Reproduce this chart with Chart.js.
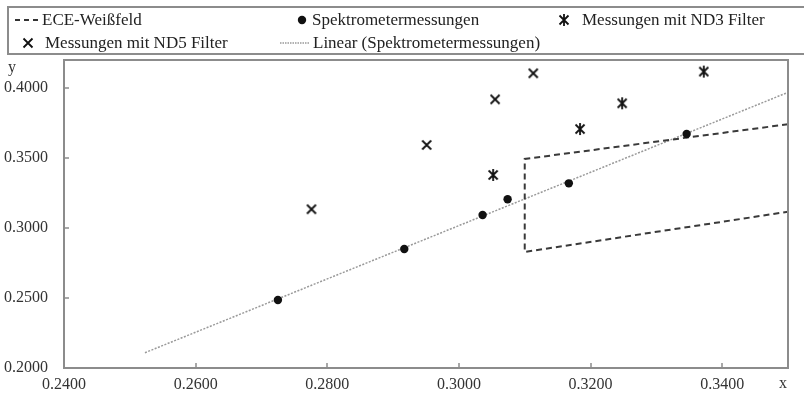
<!DOCTYPE html>
<html>
<head>
<meta charset="utf-8">
<script src="https://cdn.jsdelivr.net/npm/chart.js@4.4.0/dist/chart.umd.min.js"></script>
<style>
  body { margin: 0; background: #fff; }
  #wrap { position: relative; width: 804px; height: 399px; overflow: hidden;
          font-family: 'Liberation Serif', serif; color: #222; }
  #chart { position: absolute; left: 0; top: 0; }
  .legend-box { position: absolute; left: 7px; top: 6px; width: 830px; height: 49px;
                border: 2px solid #8c8c8c; box-sizing: border-box; }
  .lt { position: absolute; font-size: 17px; line-height: 20px; white-space: nowrap; }
  .mk { position: absolute; overflow: visible; }
  .axis-title { position: absolute; font-size: 16px; line-height: 20px; color: #333; }
</style>
</head>
<body>
<div id="wrap">
  <canvas id="chart" width="804" height="399"></canvas>

  <!-- legend, laid out like the original two-row box -->
  <div class="legend-box"></div>
  <svg class="mk" style="left:12px;top:12px" width="32" height="16">
    <line x1="3" y1="8" x2="28" y2="8" stroke="#333" stroke-width="2" stroke-dasharray="5,4"/>
  </svg>
  <span class="lt" style="left:42px;top:10px">ECE-Weißfeld</span>

  <svg class="mk" style="left:296px;top:14px" width="12" height="12">
    <circle cx="6" cy="6" r="4.2" fill="#111"/>
  </svg>
  <span class="lt" style="left:312px;top:10px">Spektrometermessungen</span>

  <svg class="mk" style="left:557px;top:13px" width="14" height="14">
    <path d="M2.5 2.5 L11.5 11.5 M11.5 2.5 L2.5 11.5 M7 1 L7 13" stroke="#111" stroke-width="1.8"/>
  </svg>
  <span class="lt" style="left:582px;top:10px">Messungen mit ND3 Filter</span>

  <svg class="mk" style="left:21px;top:36px" width="14" height="14">
    <path d="M2.5 2.5 L11.5 11.5 M11.5 2.5 L2.5 11.5" stroke="#111" stroke-width="1.8"/>
  </svg>
  <span class="lt" style="left:45px;top:33px">Messungen mit ND5 Filter</span>

  <svg class="mk" style="left:278px;top:35px" width="34" height="16">
    <line x1="2" y1="8" x2="32" y2="8" stroke="#999" stroke-width="1.5" stroke-dasharray="1.5,1"/>
  </svg>
  <span class="lt" style="left:313px;top:33px">Linear (Spektrometermessungen)</span>

  <span class="axis-title" style="left:8px;top:57px">y</span>
  <span class="axis-title" style="left:779px;top:373px">x</span>
</div>

<script>
// Spektrometermessungen
const specX = [0.2725, 0.2917, 0.3036, 0.3074, 0.3167, 0.3346];
const specY = [0.2486, 0.2850, 0.3093, 0.3205, 0.3319, 0.3671];

// Messungen mit ND3 Filter
const nd3X = [0.3052, 0.3184, 0.3248, 0.3372];
const nd3Y = [0.3379, 0.3707, 0.3891, 0.4117];

// Messungen mit ND5 Filter
const nd5X = [0.2776, 0.2951, 0.3055, 0.3113];
const nd5Y = [0.3134, 0.3593, 0.3919, 0.4105];

// ECE-Weißfeld outline (open on the right, runs out of the plot)
const eceX = [0.35, 0.31, 0.31, 0.35];
const eceY = [0.3741, 0.3493, 0.2829, 0.3116];

// Linear trend line of the spectrometer points (end points)
const trendX = [0.2523, 0.35];
const trendY = [0.2109, 0.3969];

const xTicks = [0.24, 0.26, 0.28, 0.30, 0.32, 0.34];
const yTicks = [0.20, 0.25, 0.30, 0.35, 0.40];

const toPoints = (xs, ys) => xs.map((x, i) => ({ x, y: ys[i] }));

// Excel-like markers: x, and star (x with a vertical stroke)
function makeMarker(withBar) {
  const c = document.createElement('canvas');
  c.width = 14; c.height = 14;
  const g = c.getContext('2d');
  g.strokeStyle = '#111';
  g.lineWidth = 1.8;
  g.beginPath();
  g.moveTo(2.5, 2.5); g.lineTo(11.5, 11.5);
  g.moveTo(11.5, 2.5); g.lineTo(2.5, 11.5);
  if (withBar) { g.moveTo(7, 1); g.lineTo(7, 13); }
  g.stroke();
  return c;
}

// plot frame and inward tick marks
const frame = {
  id: 'frame',
  afterDatasetsDraw(chart) {
    const { ctx, chartArea: a, scales } = chart;
    ctx.save();
    ctx.strokeStyle = '#8c8c8c';
    ctx.lineWidth = 2;
    ctx.strokeRect(a.left, a.top, a.right - a.left, a.bottom - a.top);
    ctx.lineWidth = 1.5;
    ctx.beginPath();
    scales.x.ticks.forEach((t, i) => {
      const px = Math.round(scales.x.getPixelForTick(i));
      ctx.moveTo(px, a.bottom);
      ctx.lineTo(px, a.bottom - 5);
    });
    scales.y.ticks.forEach((t, i) => {
      const py = Math.round(scales.y.getPixelForTick(i));
      ctx.moveTo(a.left, py);
      ctx.lineTo(a.left + 5, py);
    });
    ctx.stroke();
    ctx.restore();
  }
};

const tickFont = { family: 'Liberation Serif', size: 16 };

new Chart(document.getElementById('chart'), {
  type: 'scatter',
  data: {
    datasets: [
      {
        label: 'Spektrometermessungen',
        data: toPoints(specX, specY),
        pointStyle: 'circle',
        pointRadius: 4.2,
        backgroundColor: '#111',
        borderColor: '#111',
        borderWidth: 0
      },
      {
        label: 'Messungen mit ND3 Filter',
        data: toPoints(nd3X, nd3Y),
        pointStyle: makeMarker(true)
      },
      {
        label: 'Messungen mit ND5 Filter',
        data: toPoints(nd5X, nd5Y),
        pointStyle: makeMarker(false)
      },
      {
        label: 'ECE-Weißfeld',
        data: toPoints(eceX, eceY),
        showLine: true,
        borderColor: '#3a3a3a',
        borderWidth: 2,
        borderDash: [6, 4],
        pointRadius: 0,
        fill: false
      },
      {
        label: 'Linear (Spektrometermessungen)',
        data: toPoints(trendX, trendY),
        showLine: true,
        borderColor: '#9a9a9a',
        borderWidth: 1.5,
        borderDash: [2, 1.5],
        pointRadius: 0,
        fill: false
      }
    ]
  },
  options: {
    responsive: false,
    animation: false,
    layout: { padding: { top: 60, right: 16, left: 0, bottom: 0 } },
    plugins: {
      legend: { display: false },
      tooltip: { enabled: false }
    },
    scales: {
      x: {
        type: 'linear',
        min: 0.24,
        max: 0.35,
        afterFit(s) { s.height = 31; },
        afterBuildTicks(s) { s.ticks = xTicks.map(v => ({ value: v })); },
        grid: { display: false, drawTicks: false },
        border: { display: false },
        ticks: {
          padding: 7,
          font: tickFont,
          color: '#333',
          maxRotation: 0,
          autoSkip: false,
          callback: v => v.toFixed(4)
        }
      },
      y: {
        type: 'linear',
        min: 0.2,
        max: 0.42,
        afterFit(s) { s.width = 64; },
        afterBuildTicks(s) { s.ticks = yTicks.map(v => ({ value: v })); },
        grid: { display: false, drawTicks: false },
        border: { display: false },
        ticks: {
          padding: 16,
          font: tickFont,
          color: '#333',
          autoSkip: false,
          callback: v => v.toFixed(4)
        }
      }
    }
  },
  plugins: [frame]
});
</script>
</body>
</html>
